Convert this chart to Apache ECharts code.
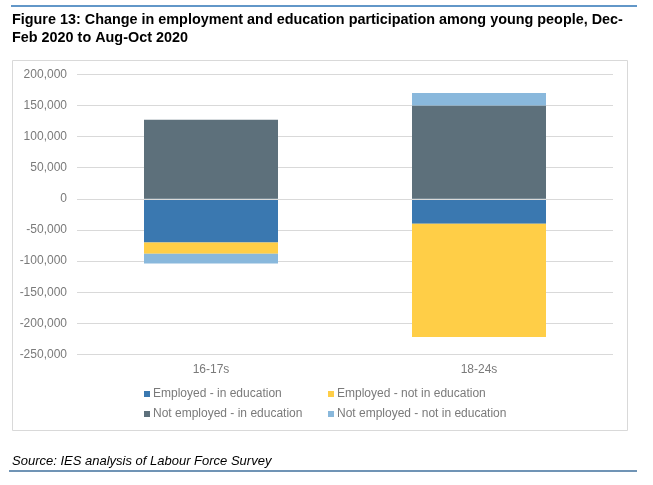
<!DOCTYPE html>
<html>
<head>
<meta charset="utf-8">
<script src="https://cdn.jsdelivr.net/npm/echarts@6/dist/echarts.min.js"></script>
<style>
html,body{margin:0;padding:0;background:#fff;}
#chart{width:653px;height:485px;}
</style>
</head>
<body>
<div id="chart"></div>
<script>
var categories = ['16-17s', '18-24s'];
var employedInEducation = [-70000, -40000];
var employedNotInEducation = [-18000, -182000];
var notEmployedInEducation = [127000, 150000];
var notEmployedNotInEducation = [-16000, 20000];
var seriesNames = ['Employed - in education', 'Employed - not in education', 'Not employed - in education', 'Not employed - not in education'];
var yTicks = { min: -250000, max: 200000, interval: 50000 };
var titleText = 'Figure 13: Change in employment and education participation among young people, Dec-\nFeb 2020 to Aug-Oct 2020';
var sourceText = 'Source: IES analysis of Labour Force Survey';

var colors = ['#3A78B0', '#FFCE47', '#5D707B', '#89B8DC'];
var font = 'Liberation Sans, Arial, sans-serif';

var chart = echarts.init(document.getElementById('chart'), null, {renderer: 'canvas'});

function legendFor(name, left, top) {
  return {
    data: [name], left: left, top: top, orient: 'horizontal',
    icon: 'rect', itemWidth: 6, itemHeight: 6, itemGap: 0, padding: 0,
    selectedMode: false,
    textStyle: { color: '#7a7a7a', fontSize: 12, fontFamily: font, padding: [0, 0, 0, -2] }
  };
}

var dataArr = [employedInEducation, employedNotInEducation, notEmployedInEducation, notEmployedNotInEducation];
var series = seriesNames.map(function (n, i) {
  var s = {
    name: n, type: 'bar', stack: 'total', barWidth: '50%',
    data: dataArr[i], itemStyle: { color: colors[i] },
    emphasis: { disabled: true }
  };
  if (i === 3) {
    s.markLine = {
      silent: true, symbol: 'none', animation: false,
      label: { show: false },
      lineStyle: { color: '#d9d9d9', width: 1, type: 'solid' },
      data: [{ yAxis: 0 }]
    };
  }
  return s;
});

chart.setOption({
  animation: false,
  backgroundColor: '#fff',
  color: colors,
  title: [{
    text: titleText, left: 12, top: 10.5, padding: 0,
    textStyle: { fontSize: 14.4, fontWeight: 'bold', color: '#000', fontFamily: font, lineHeight: 18.5 }
  }, {
    text: sourceText, left: 12, top: 455, padding: 0,
    textStyle: { fontSize: 13, fontWeight: 'normal', fontStyle: 'italic', color: '#000', fontFamily: font }
  }],
  legend: [
    legendFor(seriesNames[0], 144, 388),
    legendFor(seriesNames[1], 328, 388),
    legendFor(seriesNames[2], 144, 408),
    legendFor(seriesNames[3], 328, 408)
  ],
  grid: { left: 77, right: 40, top: 74.3, bottom: 130.5, containLabel: false },
  xAxis: {
    type: 'category', data: categories,
    axisLine: { show: false }, axisTick: { show: false },
    axisLabel: { color: '#7a7a7a', fontSize: 12, fontFamily: font, margin: 9 }
  },
  yAxis: {
    type: 'value', min: yTicks.min, max: yTicks.max, interval: yTicks.interval,
    axisLine: { show: false }, axisTick: { show: false },
    splitLine: { lineStyle: { color: '#d9d9d9', width: 1 } },
    axisLabel: {
      color: '#7a7a7a', fontSize: 12, fontFamily: font, margin: 10,
      formatter: function (v) { return v.toLocaleString('en-US'); }
    }
  },
  graphic: [
    { type: 'rect', silent: true, z: -1, shape: { x: 12.5, y: 60.5, width: 615, height: 370 },
      style: { fill: 'none', stroke: '#d9d9d9', lineWidth: 1 } },
    { type: 'line', silent: true, shape: { x1: 11, y1: 6, x2: 637, y2: 6 },
      style: { stroke: '#2E75B6', lineWidth: 1.5 } },
    { type: 'line', silent: true, shape: { x1: 9, y1: 471, x2: 637, y2: 471 },
      style: { stroke: '#41719C', lineWidth: 1.5 } }
  ],
  series: series
});
</script>
</body>
</html>
